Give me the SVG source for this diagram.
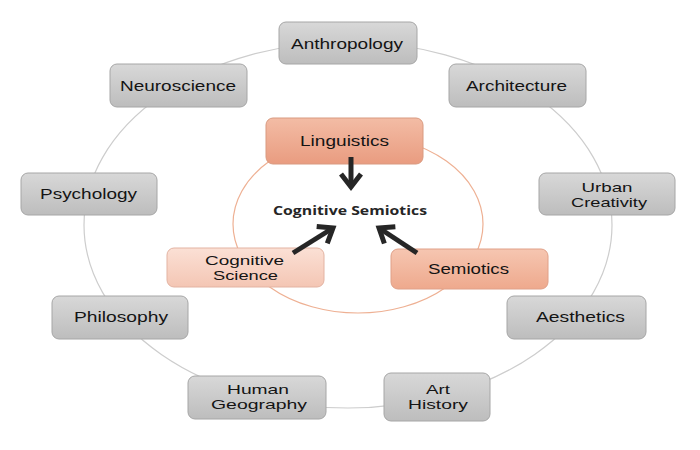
<svg xmlns="http://www.w3.org/2000/svg" width="700" height="450" viewBox="0 0 700 450">
<defs>
<linearGradient id="gGray" x1="0" y1="0" x2="0" y2="1"><stop offset="0" stop-color="#d8d8d8"/><stop offset="1" stop-color="#bdbdbd"/></linearGradient>
<linearGradient id="gLing" x1="0" y1="0" x2="0" y2="1"><stop offset="0" stop-color="#f3bca5"/><stop offset="1" stop-color="#e99c80"/></linearGradient>
<linearGradient id="gSem" x1="0" y1="0" x2="0" y2="1"><stop offset="0" stop-color="#f6c6b1"/><stop offset="1" stop-color="#eea98d"/></linearGradient>
<linearGradient id="gCog" x1="0" y1="0" x2="0" y2="1"><stop offset="0" stop-color="#fbe0d5"/><stop offset="1" stop-color="#f4c6b4"/></linearGradient>
<marker id="chev" markerUnits="userSpaceOnUse" viewBox="-20 -15 30 30" markerWidth="30" markerHeight="30" refX="0" refY="0" orient="auto">
<path d="M-13,-10 L0,0 L-13,10" fill="none" stroke="#262626" stroke-width="5" stroke-linejoin="miter"/>
</marker>
<style>
.gray rect{fill:url(#gGray);stroke:#a6a6a6;stroke-width:1}
.lbl{font-family:"Liberation Sans",Arial,sans-serif;font-size:15px;fill:#141414;text-anchor:middle}
.two{font-size:13.5px}
.ring{fill:none;stroke:#cdcdcd;stroke-width:1.2}
.inner{fill:none;stroke:#eeb093;stroke-width:1.2}
.arr{fill:none;stroke:#262626;stroke-width:5;marker-end:url(#chev)}
</style>
</defs>
<rect width="700" height="450" fill="#ffffff"/>
<g id="connectors">
<ellipse class="ring" cx="348" cy="225" rx="264" ry="183"/>
<ellipse class="inner" cx="358" cy="224" rx="125" ry="89"/>
</g>
<g id="anthropology" class="gray"><rect x="279" y="22" width="138" height="42" rx="7"/><text class="lbl" x="347" y="48.5" textLength="112" lengthAdjust="spacingAndGlyphs">Anthropology</text></g>
<g id="neuroscience" class="gray"><rect x="110" y="64" width="137" height="43" rx="7"/><text class="lbl" x="178" y="91" textLength="116" lengthAdjust="spacingAndGlyphs">Neuroscience</text></g>
<g id="architecture" class="gray"><rect x="449" y="64" width="137" height="43" rx="7"/><text class="lbl" x="516.5" y="90.5" textLength="101" lengthAdjust="spacingAndGlyphs">Architecture</text></g>
<g id="psychology" class="gray"><rect x="21" y="173" width="136" height="42" rx="7"/><text class="lbl" x="88.5" y="199" textLength="97" lengthAdjust="spacingAndGlyphs">Psychology</text></g>
<g id="urban-creativity" class="gray"><rect x="539" y="173" width="136" height="42" rx="7"/><text class="lbl two" x="607" y="192" textLength="51" lengthAdjust="spacingAndGlyphs">Urban</text><text class="lbl two" x="609" y="207" textLength="76" lengthAdjust="spacingAndGlyphs">Creativity</text></g>
<g id="philosophy" class="gray"><rect x="52" y="296" width="136" height="43" rx="7"/><text class="lbl" x="121" y="321.5" textLength="94" lengthAdjust="spacingAndGlyphs">Philosophy</text></g>
<g id="aesthetics" class="gray"><rect x="507" y="296" width="139" height="43" rx="7"/><text class="lbl" x="580.5" y="321.5" textLength="89" lengthAdjust="spacingAndGlyphs">Aesthetics</text></g>
<g id="human-geography" class="gray"><rect x="188" y="376" width="138" height="43" rx="7"/><text class="lbl two" x="258" y="393.5" textLength="62" lengthAdjust="spacingAndGlyphs">Human</text><text class="lbl two" x="259" y="408.5" textLength="96" lengthAdjust="spacingAndGlyphs">Geography</text></g>
<g id="art-history" class="gray"><rect x="384" y="373" width="106" height="48" rx="7"/><text class="lbl two" x="438" y="393.5" textLength="24" lengthAdjust="spacingAndGlyphs">Art</text><text class="lbl two" x="438" y="408.5" textLength="60" lengthAdjust="spacingAndGlyphs">History</text></g>
<g id="linguistics"><rect x="266" y="118" width="157" height="46" rx="7" fill="url(#gLing)" stroke="#d99a80"/><text class="lbl" x="344.5" y="145.5" textLength="89" lengthAdjust="spacingAndGlyphs">Linguistics</text></g>
<g id="cognitive-science"><rect x="167" y="248" width="157" height="39" rx="7" fill="url(#gCog)" stroke="#e3b3a2"/><text class="lbl two" x="244.5" y="264.5" textLength="79" lengthAdjust="spacingAndGlyphs">Cognitive</text><text class="lbl two" x="245.5" y="279.5" textLength="65" lengthAdjust="spacingAndGlyphs">Science</text></g>
<g id="semiotics"><rect x="391" y="249" width="157" height="40" rx="7" fill="url(#gSem)" stroke="#e0a088"/><text class="lbl" x="468.5" y="273.5" textLength="81" lengthAdjust="spacingAndGlyphs">Semiotics</text></g>
<g id="cognitive-semiotics"><text x="350" y="214.5" font-family="'Open Sans','Liberation Sans',sans-serif" font-weight="700" font-size="12.5" fill="#262626" text-anchor="middle" textLength="154" lengthAdjust="spacingAndGlyphs">Cognitive Semiotics</text></g>
<g id="arrows">
<path class="arr" d="M351,157 L351,187"/>
<path class="arr" d="M293,253 L333,228"/>
<path class="arr" d="M417,253 L379,228"/>
</g>
</svg>
